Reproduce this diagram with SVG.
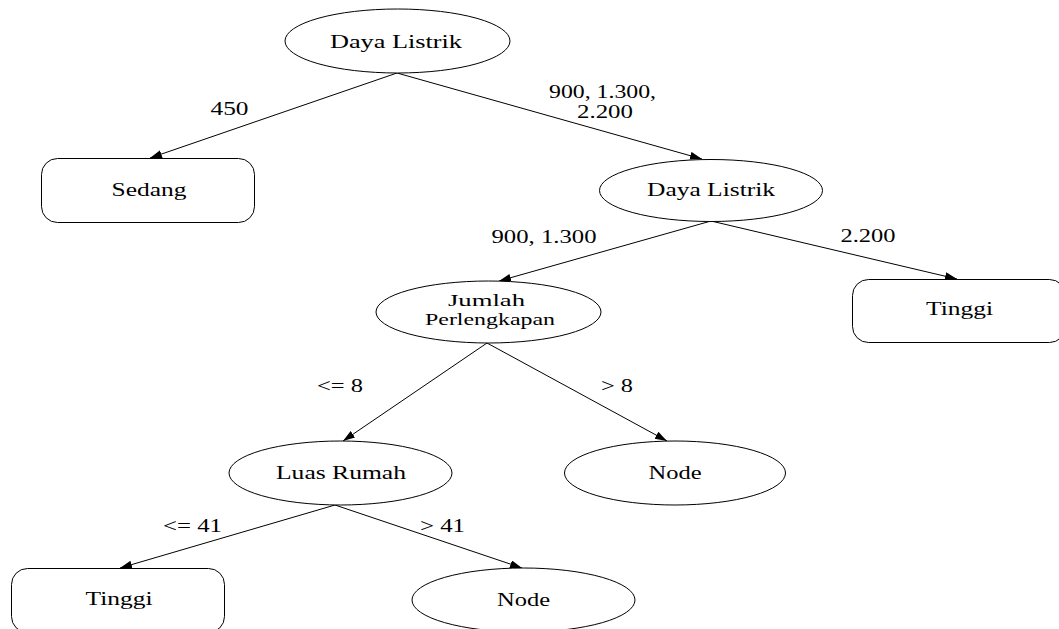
<svg xmlns="http://www.w3.org/2000/svg" width="1059" height="629" viewBox="0 0 1059 629">
  <style>
    .shape { fill: #ffffff; stroke: #000000; stroke-width: 1; }
    .edge { fill: none; stroke: #000000; stroke-width: 1; marker-end: url(#arrow); }
    text { font-family: "Liberation Serif", "Times New Roman", serif; font-size: 18px; fill: #000000; text-anchor: middle; }
    .tight { font-size: 17px; }
  </style>
  <defs>
    <marker id="arrow" markerUnits="userSpaceOnUse" markerWidth="13" markerHeight="9" refX="12" refY="4" orient="auto">
      <path d="M0,0 L12,4 L0,8 Z" fill="#000000"/>
    </marker>
  </defs>

  <!-- connectors and their labels -->
  <g id="edges">
    <line class="edge" x1="397" y1="73" x2="150" y2="158"/>
    <text x="229.5" y="115" textLength="38" lengthAdjust="spacingAndGlyphs">450</text>

    <line class="edge" x1="397" y1="73" x2="702" y2="159"/>
    <text x="602.5" y="98" textLength="107" lengthAdjust="spacingAndGlyphs">900, 1.300,</text>
    <text x="605" y="118" textLength="56" lengthAdjust="spacingAndGlyphs">2.200</text>

    <line class="edge" x1="711" y1="221" x2="499" y2="281"/>
    <text x="544" y="243" textLength="105" lengthAdjust="spacingAndGlyphs">900, 1.300</text>

    <line class="edge" x1="711" y1="221" x2="957" y2="279"/>
    <text x="868" y="242" textLength="55" lengthAdjust="spacingAndGlyphs">2.200</text>

    <line class="edge" x1="487" y1="343" x2="343" y2="441"/>
    <text x="340" y="392" textLength="46" lengthAdjust="spacingAndGlyphs">&lt;= 8</text>

    <line class="edge" x1="487" y1="343" x2="667" y2="441"/>
    <text x="617" y="392" textLength="32" lengthAdjust="spacingAndGlyphs">&gt; 8</text>

    <line class="edge" x1="335" y1="505" x2="120" y2="568"/>
    <text x="192.5" y="532" textLength="59" lengthAdjust="spacingAndGlyphs">&lt;= 41</text>

    <line class="edge" x1="335" y1="505" x2="522" y2="568"/>
    <text x="442.5" y="532" textLength="45" lengthAdjust="spacingAndGlyphs">&gt; 41</text>
  </g>

  <g id="root">
    <ellipse class="shape" cx="397.5" cy="41" rx="112.5" ry="32"/>
    <text x="396" y="48" textLength="132" lengthAdjust="spacingAndGlyphs">Daya Listrik</text>
  </g>

  <g id="sedang">
    <rect class="shape" x="41.5" y="158.5" width="213" height="64" rx="16"/>
    <text x="149" y="196" textLength="75" lengthAdjust="spacingAndGlyphs">Sedang</text>
  </g>

  <g id="daya-listrik-2">
    <ellipse class="shape" cx="711" cy="190.5" rx="111.5" ry="31"/>
    <text x="711" y="196" textLength="128" lengthAdjust="spacingAndGlyphs">Daya Listrik</text>
  </g>

  <g id="tinggi-right">
    <rect class="shape" x="852.5" y="279.5" width="213" height="63" rx="16"/>
    <text x="959.5" y="315" textLength="67" lengthAdjust="spacingAndGlyphs">Tinggi</text>
  </g>

  <g id="jumlah-perlengkapan">
    <ellipse class="shape" cx="488.5" cy="312" rx="112.5" ry="31"/>
    <text class="tight" x="486.5" y="306" textLength="77" lengthAdjust="spacingAndGlyphs">Jumlah</text>
    <text class="tight" x="490" y="325" textLength="130" lengthAdjust="spacingAndGlyphs">Perlengkapan</text>
  </g>

  <g id="luas-rumah">
    <ellipse class="shape" cx="340.5" cy="473" rx="111.5" ry="32"/>
    <text x="341" y="479" textLength="130" lengthAdjust="spacingAndGlyphs">Luas Rumah</text>
  </g>

  <g id="node-mid">
    <ellipse class="shape" cx="675" cy="473" rx="110.5" ry="32"/>
    <text x="675" y="479" textLength="53" lengthAdjust="spacingAndGlyphs">Node</text>
  </g>

  <g id="tinggi-left">
    <rect class="shape" x="11.5" y="568.5" width="213" height="64" rx="16"/>
    <text x="119" y="605" textLength="67" lengthAdjust="spacingAndGlyphs">Tinggi</text>
  </g>

  <g id="node-bottom">
    <ellipse class="shape" cx="523.5" cy="600" rx="111.5" ry="32"/>
    <text x="523.5" y="606" textLength="53" lengthAdjust="spacingAndGlyphs">Node</text>
  </g>
</svg>
